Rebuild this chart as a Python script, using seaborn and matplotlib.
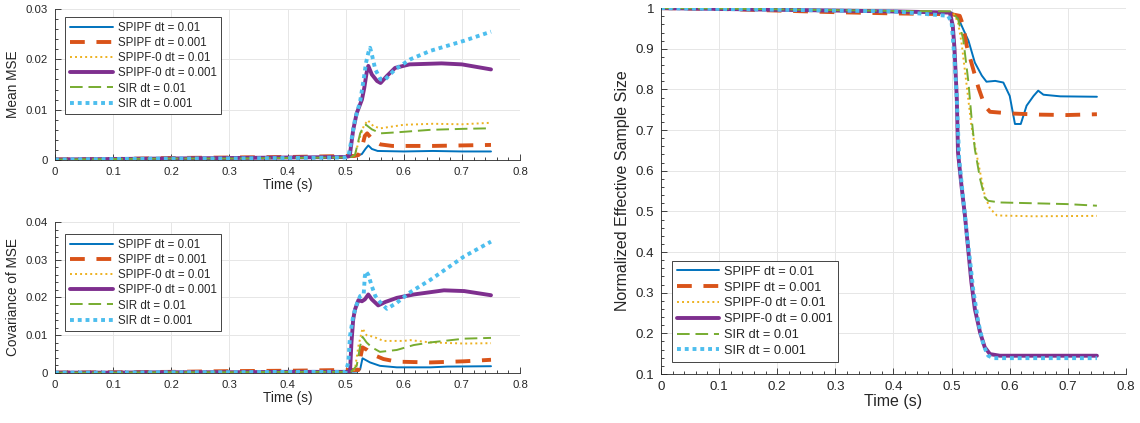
import numpy as np
import pandas as pd
import seaborn as sns
import matplotlib.pyplot as plt
from matplotlib.ticker import AutoMinorLocator, FuncFormatter

# ---- data ----
labels = ['SPIPF dt = 0.01', 'SPIPF dt = 0.001', 'SPIPF-0 dt = 0.01',
          'SPIPF-0 dt = 0.001', 'SIR dt = 0.01', 'SIR dt = 0.001']

# Mean MSE
mean_t_spipf_01 = [0, 0.1, 0.2, 0.3, 0.4, 0.5, 0.52, 0.528, 0.534, 0.539, 0.545, 0.555, 0.6, 0.65, 0.7, 0.75]
mean_spipf_01 = [0.0001, 0.0002, 0.0003, 0.0004, 0.0005, 0.0006, 0.0008, 0.0012, 0.0022, 0.0029, 0.0022, 0.0018, 0.0017, 0.0018, 0.0017, 0.0017]
mean_t_spipf_001 = [0, 0.1, 0.2, 0.3, 0.4, 0.5, 0.515, 0.522, 0.528, 0.533, 0.537, 0.548, 0.56, 0.58, 0.6, 0.65, 0.7, 0.75]
mean_spipf_001 = [0.0001, 0.0002, 0.0004, 0.0005, 0.0006, 0.0008, 0.0008, 0.0010, 0.0025, 0.0048, 0.0053, 0.0038, 0.0031, 0.0028, 0.0028, 0.0028, 0.0029, 0.0030]
mean_t_spipf0_01 = [0, 0.1, 0.2, 0.3, 0.4, 0.5, 0.51, 0.516, 0.525, 0.531, 0.538, 0.548, 0.56, 0.6, 0.65, 0.7, 0.75]
mean_spipf0_01 = [0.0001, 0.0002, 0.0003, 0.0003, 0.0004, 0.0005, 0.0006, 0.0010, 0.0047, 0.0067, 0.0079, 0.0067, 0.0063, 0.0070, 0.0072, 0.0071, 0.0074]
mean_t_spipf0_001 = [0, 0.1, 0.2, 0.3, 0.4, 0.5, 0.507, 0.513, 0.519, 0.528, 0.532, 0.536, 0.539, 0.545, 0.554, 0.56, 0.571, 0.585, 0.61, 0.665, 0.7, 0.75]
mean_spipf0_001 = [0.0001, 0.0002, 0.0003, 0.0004, 0.0005, 0.0006, 0.0008, 0.0060, 0.0093, 0.0120, 0.0143, 0.0173, 0.0187, 0.0170, 0.0157, 0.0153, 0.0167, 0.0183, 0.0190, 0.0192, 0.0190, 0.0180]
mean_t_sir_01 = [0, 0.1, 0.2, 0.3, 0.4, 0.5, 0.51, 0.516, 0.525, 0.531, 0.535, 0.545, 0.56, 0.588, 0.646, 0.704, 0.75]
mean_sir_01 = [0.0001, 0.0002, 0.0003, 0.0003, 0.0004, 0.0005, 0.0006, 0.0010, 0.0053, 0.0067, 0.0070, 0.0061, 0.0053, 0.0055, 0.0060, 0.0062, 0.0063]
mean_t_sir_001 = [0, 0.1, 0.2, 0.3, 0.4, 0.5, 0.505, 0.51, 0.516, 0.525, 0.531, 0.535, 0.539, 0.542, 0.545, 0.551, 0.56, 0.568, 0.585, 0.611, 0.646, 0.704, 0.75]
mean_sir_001 = [0.0001, 0.0002, 0.0003, 0.0003, 0.0004, 0.0005, 0.0008, 0.0040, 0.0080, 0.0117, 0.0160, 0.0193, 0.0213, 0.0223, 0.0210, 0.0180, 0.0160, 0.0160, 0.0180, 0.0200, 0.0217, 0.0237, 0.0255]

# Covariance of MSE
cov_t_spipf_01 = [0, 0.1, 0.2, 0.3, 0.4, 0.5, 0.52, 0.525, 0.529, 0.542, 0.559, 0.588, 0.646, 0.675, 0.75]
cov_spipf_01 = [0.0001, 0.0001, 0.0002, 0.0002, 0.0003, 0.0003, 0.0004, 0.0010, 0.0039, 0.0028, 0.0019, 0.0015, 0.0015, 0.0017, 0.0018]
cov_t_spipf_001 = [0, 0.1, 0.2, 0.3, 0.4, 0.5, 0.515, 0.522, 0.526, 0.529, 0.537, 0.545, 0.565, 0.588, 0.646, 0.704, 0.75]
cov_spipf_001 = [0.0001, 0.0002, 0.0003, 0.0005, 0.0006, 0.0008, 0.0008, 0.0008, 0.0046, 0.0068, 0.0061, 0.0050, 0.0037, 0.0030, 0.0028, 0.0031, 0.0035]
cov_t_spipf0_01 = [0, 0.1, 0.2, 0.3, 0.4, 0.5, 0.51, 0.516, 0.522, 0.529, 0.536, 0.548, 0.565, 0.6, 0.611, 0.646, 0.704, 0.75]
cov_spipf0_01 = [0.0001, 0.0001, 0.0002, 0.0002, 0.0003, 0.0003, 0.0004, 0.0010, 0.0072, 0.0118, 0.0100, 0.0096, 0.0085, 0.0085, 0.0087, 0.0081, 0.0078, 0.0079]
cov_t_spipf0_001 = [0, 0.1, 0.2, 0.3, 0.4, 0.5, 0.5075, 0.51, 0.513, 0.516, 0.522, 0.528, 0.533, 0.539, 0.545, 0.556, 0.568, 0.588, 0.617, 0.669, 0.704, 0.75]
cov_spipf0_001 = [0.0001, 0.0001, 0.0002, 0.0002, 0.0003, 0.0003, 0.0003, 0.0081, 0.0142, 0.0168, 0.0193, 0.0190, 0.0195, 0.0208, 0.0195, 0.0179, 0.0188, 0.0199, 0.0208, 0.0219, 0.0217, 0.0206]
cov_t_sir_01 = [0, 0.1, 0.2, 0.3, 0.4, 0.5, 0.51, 0.519, 0.525, 0.529, 0.536, 0.545, 0.559, 0.588, 0.617, 0.646, 0.704, 0.75]
cov_sir_01 = [0.0001, 0.0001, 0.0002, 0.0002, 0.0003, 0.0003, 0.0004, 0.0019, 0.0072, 0.0096, 0.0081, 0.0068, 0.0056, 0.0061, 0.0074, 0.0081, 0.0091, 0.0093]
cov_t_sir_001 = [0, 0.1, 0.2, 0.3, 0.4, 0.5, 0.5046, 0.5075, 0.513, 0.519, 0.525, 0.531, 0.533, 0.535, 0.539, 0.545, 0.551, 0.559, 0.571, 0.588, 0.611, 0.646, 0.675, 0.704, 0.75]
cov_sir_001 = [0.0001, 0.0001, 0.0002, 0.0002, 0.0003, 0.0003, 0.0028, 0.0098, 0.0151, 0.0182, 0.0204, 0.0208, 0.0256, 0.0269, 0.0260, 0.0230, 0.0204, 0.0188, 0.0170, 0.0186, 0.0214, 0.0247, 0.0278, 0.0309, 0.0348]

# Normalized effective sample size
ess_t_spipf_01 = [0, 0.1, 0.2, 0.3, 0.4, 0.5, 0.511, 0.52, 0.529, 0.54, 0.552, 0.56, 0.575, 0.589, 0.6, 0.609, 0.619, 0.629, 0.641, 0.649, 0.658, 0.687, 0.75]
ess_spipf_01 = [1.0, 0.998, 0.995, 0.993, 0.99, 0.989, 0.977, 0.948, 0.92, 0.866, 0.834, 0.819, 0.821, 0.817, 0.784, 0.715, 0.715, 0.76, 0.784, 0.797, 0.787, 0.783, 0.782]
ess_t_spipf_001 = [0, 0.1, 0.2, 0.3, 0.4, 0.5, 0.514, 0.52, 0.526, 0.534, 0.546, 0.557, 0.566, 0.6, 0.652, 0.698, 0.75]
ess_spipf_001 = [1.0, 0.998, 0.994, 0.99, 0.987, 0.985, 0.981, 0.957, 0.907, 0.866, 0.805, 0.76, 0.745, 0.741, 0.738, 0.737, 0.739]
ess_t_spipf0_01 = [0, 0.1, 0.2, 0.3, 0.4, 0.5, 0.503, 0.511, 0.517, 0.526, 0.534, 0.54, 0.549, 0.557, 0.566, 0.578, 0.641, 0.75]
ess_spipf0_01 = [1.0, 0.998, 0.996, 0.994, 0.992, 0.99, 0.988, 0.965, 0.916, 0.809, 0.711, 0.662, 0.597, 0.539, 0.507, 0.49, 0.488, 0.489]
ess_t_spipf0_001 = [0, 0.1, 0.2, 0.3, 0.4, 0.497, 0.502, 0.505, 0.509, 0.511, 0.517, 0.523, 0.529, 0.534, 0.54, 0.549, 0.557, 0.566, 0.583, 0.75]
ess_spipf0_001 = [1.0, 0.998, 0.996, 0.994, 0.992, 0.989, 0.957, 0.9, 0.776, 0.645, 0.563, 0.489, 0.4, 0.326, 0.26, 0.202, 0.166, 0.149, 0.145, 0.145]
ess_t_sir_01 = [0, 0.1, 0.2, 0.3, 0.4, 0.5, 0.511, 0.52, 0.529, 0.534, 0.54, 0.549, 0.557, 0.563, 0.583, 0.641, 0.698, 0.75]
ess_sir_01 = [1.0, 0.999, 0.997, 0.995, 0.993, 0.992, 0.973, 0.924, 0.817, 0.735, 0.653, 0.58, 0.534, 0.526, 0.522, 0.52, 0.518, 0.514]
ess_t_sir_001 = [0, 0.1, 0.2, 0.3, 0.4, 0.494, 0.5, 0.505, 0.509, 0.513, 0.52, 0.526, 0.532, 0.537, 0.546, 0.555, 0.563, 0.572, 0.75]
ess_sir_001 = [1.0, 0.998, 0.996, 0.994, 0.992, 0.981, 0.965, 0.875, 0.776, 0.629, 0.53, 0.448, 0.375, 0.309, 0.227, 0.17, 0.145, 0.139, 0.139]

# MATLAB default colour order and line styles
colors = ['#0072BD', '#D95319', '#EDB120', '#7E2F8E', '#77AC30', '#4DBEEE']
styles = ['-', (0, (3.8, 3.0)), (0, (1.0, 1.6)), '-', (0, (6.5, 3.0)), (0, (1.0, 1.0))]
widths = [1.4, 2.8, 1.4, 2.8, 1.4, 2.8]

sns.set_theme(style='ticks')
plt.rcParams['font.family'] = ['Liberation Sans', 'DejaVu Sans']

fig = plt.figure(figsize=(11.4, 4.23), dpi=100)
ax_mean = fig.add_axes([0.0482, 0.6217, 0.408, 0.357])
ax_cov = fig.add_axes([0.0482, 0.1182, 0.408, 0.357])
ax_ess = fig.add_axes([0.5798, 0.1158, 0.4079, 0.865])

fmt = FuncFormatter(lambda v, p: f'{v:.10g}')


def draw(ax, series, ylim, ystep, ylabel, fs, lfs, anchor, loc, hlen, lsp):
    for (t, v), lab, c, ls, lw in zip(series, labels, colors, styles, widths):
        df = pd.DataFrame({'t': t, 'v': v})
        sns.lineplot(data=df, x='t', y='v', ax=ax, color=c, linestyle=ls,
                     linewidth=lw, label=lab)
    ax.set_xlim(0, 0.8)
    ax.set_ylim(*ylim)
    ax.set_xticks(np.arange(0, 0.81, 0.1))
    ax.set_yticks(np.arange(ylim[0], ylim[1] + ystep / 2, ystep))
    ax.xaxis.set_major_formatter(fmt)
    ax.yaxis.set_major_formatter(fmt)
    ax.xaxis.set_minor_locator(AutoMinorLocator())
    ax.yaxis.set_minor_locator(AutoMinorLocator())
    ax.tick_params(which='both', direction='in', color='#262626', width=0.6,
                   labelsize=fs, labelcolor='#262626', pad=5,
                   bottom=True, left=True, top=False, right=False)
    ax.tick_params(which='major', length=4)
    ax.tick_params(which='minor', length=2.5)
    ax.grid(True, which='major', color='#e6e6e6', linewidth=0.7)
    ax.set_axisbelow(True)
    for s in ['top', 'right']:
        ax.spines[s].set_visible(False)
    for s in ['left', 'bottom']:
        ax.spines[s].set_color('#262626')
        ax.spines[s].set_linewidth(0.6)
    ax.set_xlabel('Time (s)', fontsize=fs * 1.2, color='#262626', labelpad=1)
    ax.set_ylabel(ylabel, fontsize=fs * 1.2, color='#262626', labelpad=4)
    leg = ax.legend(loc=loc, bbox_to_anchor=anchor, borderaxespad=0,
                    fontsize=lfs, handlelength=hlen, handletextpad=0.4,
                    labelspacing=lsp, borderpad=0.4, fancybox=False,
                    frameon=True, framealpha=1, edgecolor='#262626')
    leg.get_frame().set_linewidth(0.6)


draw(ax_mean,
     [(mean_t_spipf_01, mean_spipf_01), (mean_t_spipf_001, mean_spipf_001),
      (mean_t_spipf0_01, mean_spipf0_01), (mean_t_spipf0_001, mean_spipf0_001),
      (mean_t_sir_01, mean_sir_01), (mean_t_sir_001, mean_sir_001)],
     (0, 0.03), 0.01, 'Mean MSE', 8.2, 8.3, (10 / 465, 1 - 8 / 151), 'upper left', 3.8, 0.28)
draw(ax_cov,
     [(cov_t_spipf_01, cov_spipf_01), (cov_t_spipf_001, cov_spipf_001),
      (cov_t_spipf0_01, cov_spipf0_01), (cov_t_spipf0_001, cov_spipf0_001),
      (cov_t_sir_01, cov_sir_01), (cov_t_sir_001, cov_sir_001)],
     (0, 0.04), 0.01, 'Covariance of MSE', 8.2, 8.3, (10 / 465, 1 - 12 / 151), 'upper left', 3.8, 0.28)
draw(ax_ess,
     [(ess_t_spipf_01, ess_spipf_01), (ess_t_spipf_001, ess_spipf_001),
      (ess_t_spipf0_01, ess_spipf0_01), (ess_t_spipf0_001, ess_spipf0_001),
      (ess_t_sir_01, ess_sir_01), (ess_t_sir_001, ess_sir_001)],
     (0.1, 1.0), 0.1, 'Normalized Effective Sample Size', 9.6, 9.2, (11 / 465, 12 / 366), 'lower left', 3.3, 0.3)

fig.savefig('out.png', dpi=100)
